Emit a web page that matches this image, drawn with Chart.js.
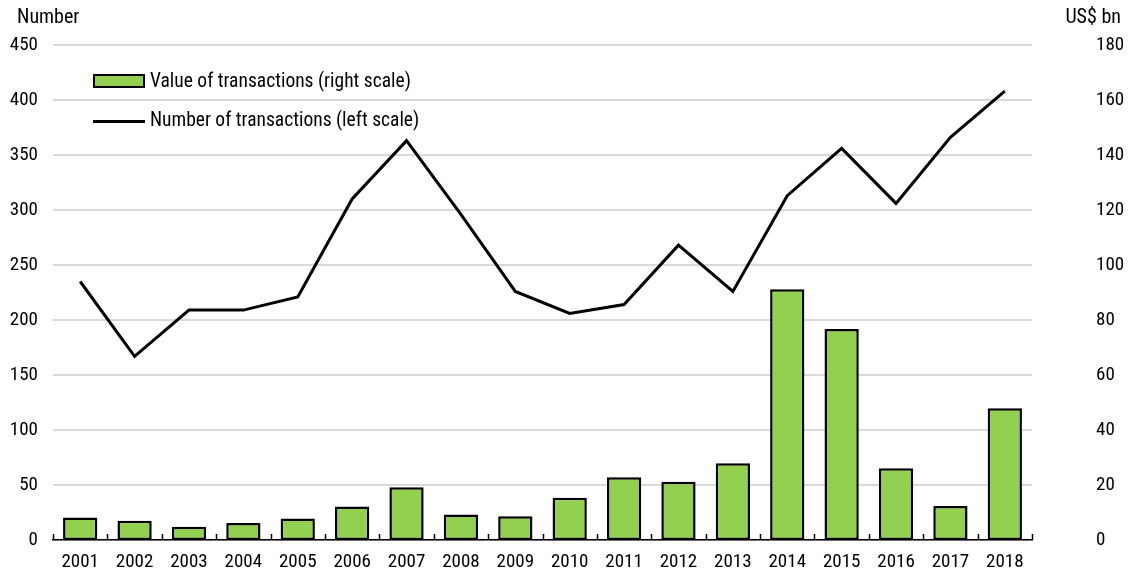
<!DOCTYPE html>
<html>
<head>
<meta charset="utf-8">
<script src="https://cdn.jsdelivr.net/npm/chart.js@4.4.1/dist/chart.umd.min.js"></script>
<style>
    html, body { margin: 0; padding: 0; background: #ffffff; }
</style>
</head>
<body>
<canvas id="chart" width="1132" height="569"></canvas>
<script>
// DATA

const years = ["2001", "2002", "2003", "2004", "2005", "2006", "2007", "2008", "2009",
               "2010", "2011", "2012", "2013", "2014", "2015", "2016", "2017", "2018"];

// value of transactions, US$ bn (right scale)
const dealValue = [8.2, 7.0, 4.8, 6.2, 7.8, 12.2, 19.2, 9.3, 8.6,
                   15.4, 22.8, 21.2, 27.9, 91.2, 76.7, 26.1, 12.4, 47.9];

// number of transactions (left scale)
const dealCount = [235, 167, 209, 209, 221, 310, 363, 296, 226,
                   206, 214, 268, 226, 313, 356, 306, 366, 408];

// axis ranges
const leftMax = 450, leftStep = 50;
const rightMax = 180, rightStep = 20;

const FONT = "'Roboto Condensed', 'Liberation Sans', sans-serif";
const GREEN = "#92d050";


// EXTRA DRAWING: unit labels, legend, inner ticks

const extras = {
    id: "extras",
    afterDraw(chart) {
        const ctx = chart.ctx;
        const x = chart.scales.x;
        const area = chart.chartArea;
        const step = x.getPixelForValue(1) - x.getPixelForValue(0);

        ctx.save();

        // small ticks between categories, pointing up
        ctx.strokeStyle = "#000";
        ctx.lineWidth = 1.5;
        for (let i = 0; i <= years.length; i++) {
            let px = Math.round(x.getPixelForValue(i) - step / 2) + 0.5;
            ctx.beginPath();
            ctx.moveTo(px, area.bottom);
            ctx.lineTo(px, area.bottom - 6);
            ctx.stroke();
        }

        // unit labels
        ctx.fillStyle = "#000";
        ctx.font = "20px " + FONT;
        ctx.textBaseline = "middle";
        ctx.textAlign = "left";
        ctx.fillText("Number", 17, 18);
        ctx.textAlign = "right";
        ctx.fillText("US$ bn", 1121, 18);

        // legend
        ctx.font = "19.5px " + FONT;
        ctx.textAlign = "left";
        ctx.fillStyle = GREEN;
        ctx.fillRect(94, 75, 50, 12);
        ctx.strokeStyle = "#000";
        ctx.lineWidth = 2;
        ctx.strokeRect(94, 75, 50, 12);
        ctx.fillStyle = "#000";
        ctx.fillText("Value of transactions (right scale)", 150, 82);

        ctx.lineWidth = 3;
        ctx.beginPath();
        ctx.moveTo(93, 121.5);
        ctx.lineTo(145, 121.5);
        ctx.stroke();
        ctx.fillText("Number of transactions (left scale)", 150, 121);

        ctx.restore();
    }
};


// CHART

function renderChart() {
    const canvas = document.getElementById("chart");

    new Chart(canvas, {
        data: {
            labels: years,
            datasets: [
                {
                    type: "line",
                    label: "Number of transactions (left scale)",
                    data: dealCount,
                    yAxisID: "y",
                    borderColor: "#000",
                    borderWidth: 3,
                    pointRadius: 0,
                    tension: 0,
                    order: 1
                },
                {
                    type: "bar",
                    label: "Value of transactions (right scale)",
                    data: dealValue,
                    yAxisID: "y1",
                    backgroundColor: GREEN,
                    borderColor: "#000",
                    borderWidth: 2.5,
                    borderSkipped: false,
                    categoryPercentage: 1,
                    barPercentage: 0.63,
                    order: 2
                }
            ]
        },
        options: {
            responsive: false,
            animation: false,
            layout: {
                padding: { top: 45, right: 0, bottom: 0, left: 0 }
            },
            plugins: {
                legend: { display: false },
                tooltip: { enabled: false }
            },
            scales: {
                x: {
                    grid: { display: false },
                    border: { display: true, color: "#000", width: 1.5 },
                    ticks: {
                        color: "#000",
                        font: { family: FONT, size: 19 },
                        padding: 3,
                        maxRotation: 0,
                        autoSkip: false
                    },
                    afterFit(scale) { scale.height = 29; }
                },
                y: {
                    position: "left",
                    min: 0,
                    max: leftMax,
                    grid: { color: "#d9d9d9", lineWidth: 2, drawTicks: false },
                    border: { display: false },
                    ticks: {
                        stepSize: leftStep,
                        color: "#000",
                        font: { family: FONT, size: 19 },
                        padding: 15
                    },
                    afterFit(scale) {
                        scale.width = 53;
                        scale.paddingTop = 10;
                        scale.paddingBottom = 10;
                    }
                },
                y1: {
                    position: "right",
                    min: 0,
                    max: rightMax,
                    grid: { display: false },
                    border: { display: false },
                    ticks: {
                        stepSize: rightStep,
                        color: "#000",
                        font: { family: FONT, size: 19 },
                        padding: 56
                    },
                    afterFit(scale) {
                        scale.width = 100;
                        scale.paddingTop = 10;
                        scale.paddingBottom = 10;
                    }
                }
            }
        },
        plugins: [extras]
    });
}

renderChart();
</script>
</body>
</html>
